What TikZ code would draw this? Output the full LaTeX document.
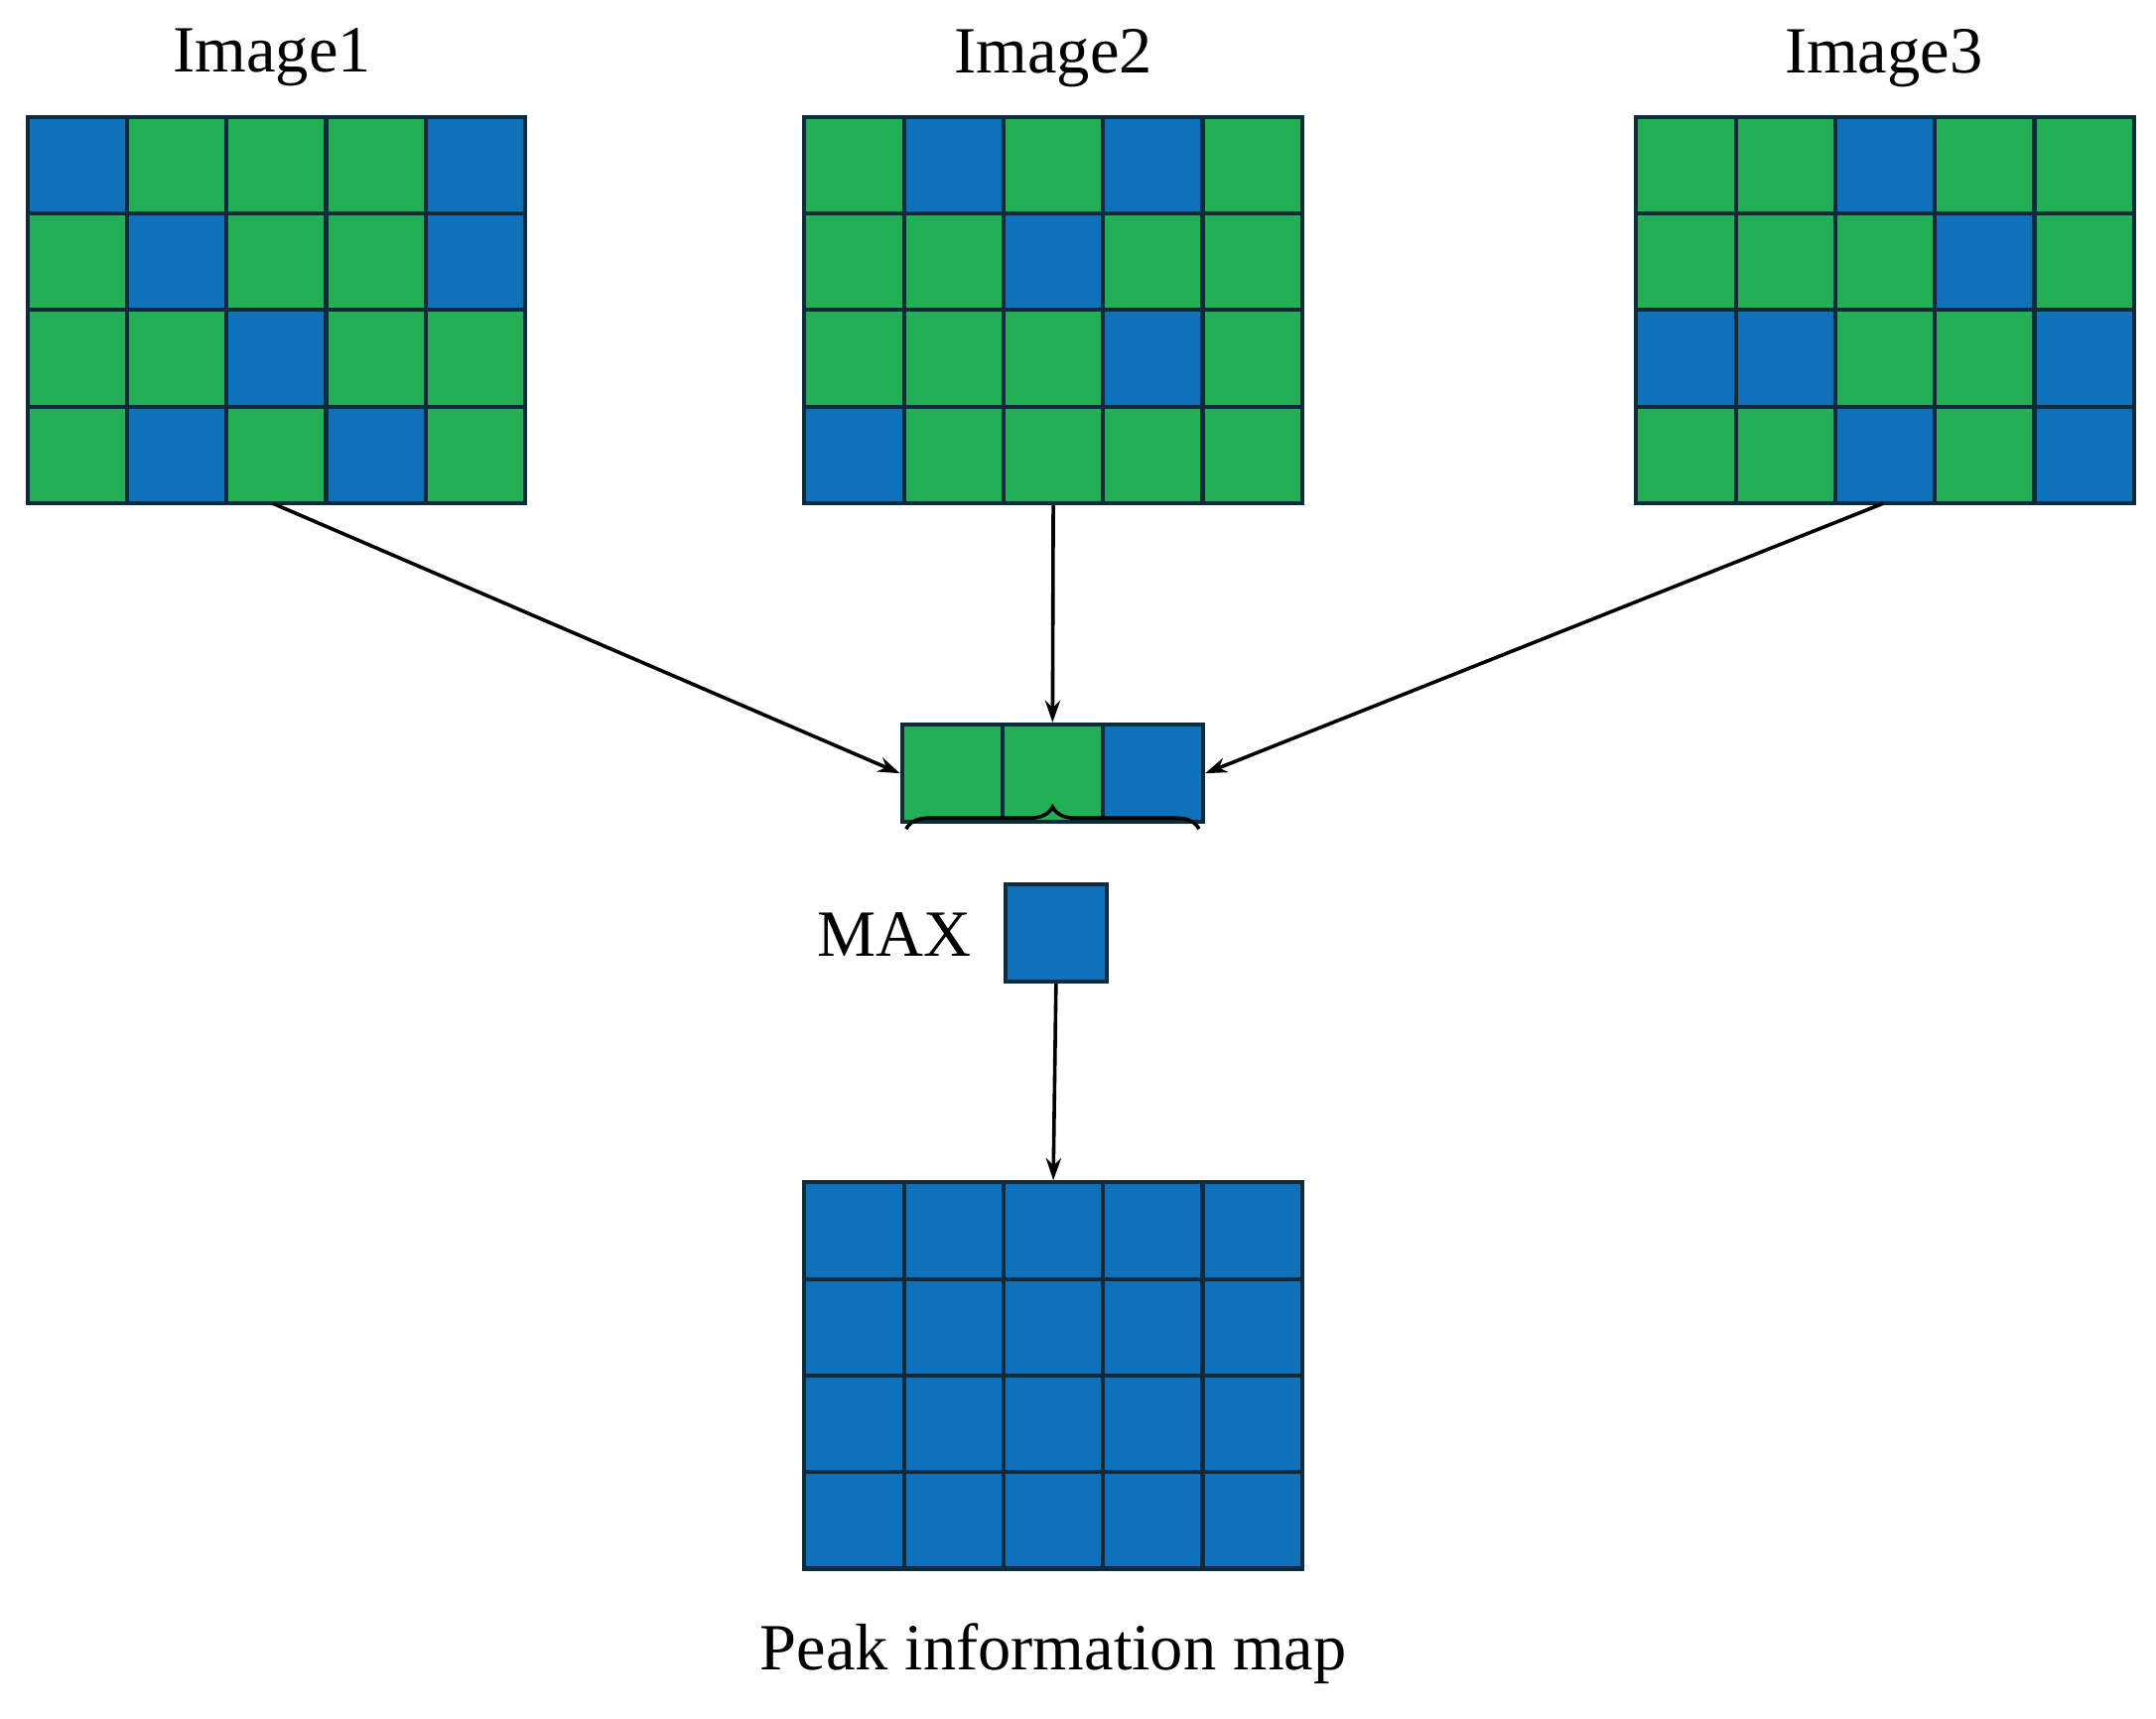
\documentclass[tikz,border=0pt]{standalone}
\usepackage{fontspec}
\setmainfont{Liberation Serif}
\usetikzlibrary{arrows.meta,decorations.pathreplacing}
\definecolor{cG}{HTML}{23AF55}
\definecolor{cB}{HTML}{1071BB}
\definecolor{edge}{HTML}{0F2A3A}
\tikzset{x=1pt,y=-1pt,
  cell/.style={draw=edge,line width=3pt},
  frame/.style={draw=edge,line width=3pt,inner sep=0pt,minimum width=362pt,minimum height=281pt},
  lab/.style={font=\fontsize{48}{56}\selectfont},
  arr/.style={line width=2.6pt,-{Stealth[length=16pt,width=11pt]}}}
\newcommand{\mygrid}[4]{% name, x0, y0, rows
  \foreach \row [count=\r] in {#4}{
    \foreach \c [count=\k] in \row {
      \path[cell,fill=c\c] ({#2+(\k-1)*72.4},{#3+(\r-1)*70.25}) rectangle ++(72.4,70.25);
    }}
  \node[frame] (#1) at ({#2+181},{#3+140.5}) {};
}
\begin{document}
\begin{tikzpicture}
\useasboundingbox (0,0) rectangle (1568,1250);
\mygrid{g1}{20}{85}{{B,G,G,G,B},{G,B,G,G,B},{G,G,B,G,G},{G,B,G,B,G}}
\mygrid{g2}{585}{85}{{G,B,G,B,G},{G,G,B,G,G},{G,G,G,B,G},{B,G,G,G,G}}
\mygrid{g3}{1190}{85}{{G,G,B,G,G},{G,G,G,B,G},{B,B,G,G,B},{G,G,B,G,B}}
\mygrid{out}{585}{860}{{B,B,B,B,B},{B,B,B,B,B},{B,B,B,B,B},{B,B,B,B,B}}
\node[lab] (l1) at (198,42) {Image1};
\node[lab] (l2) at (766,42) {Image2};
\node[lab] (l3) at (1370,42) {Image3};
\node[lab] (lp) at (766,1203) {Peak information map};
% strip
\foreach \c [count=\k] in {G,G,B}{
  \path[cell,fill=c\c] ({656+(\k-1)*73},527) rectangle ++(73,71);}
\node[draw=edge,line width=3pt,inner sep=0pt,minimum width=219pt,minimum height=71pt] (strip) at (765.5,562.5) {};
\node[cell,fill=cB,inner sep=0pt,minimum width=74pt,minimum height=71pt] (mx) at (768,678.5) {};
\node[lab,anchor=east] (maxl) at (710,680) {MAX};
\draw[line width=2.6pt,decorate,decoration={brace,amplitude=16pt}] (659,603) -- (872,603);
\coordinate (a1) at (198,366);
\coordinate (a3) at (1370,366);
\draw[arr] (a1) -- (strip.west);
\draw[arr] (g2.south) -- (strip.north);
\draw[arr] (a3) -- (strip.east);
\draw[arr] (mx.south) -- (out.north);
\end{tikzpicture}
\end{document}
